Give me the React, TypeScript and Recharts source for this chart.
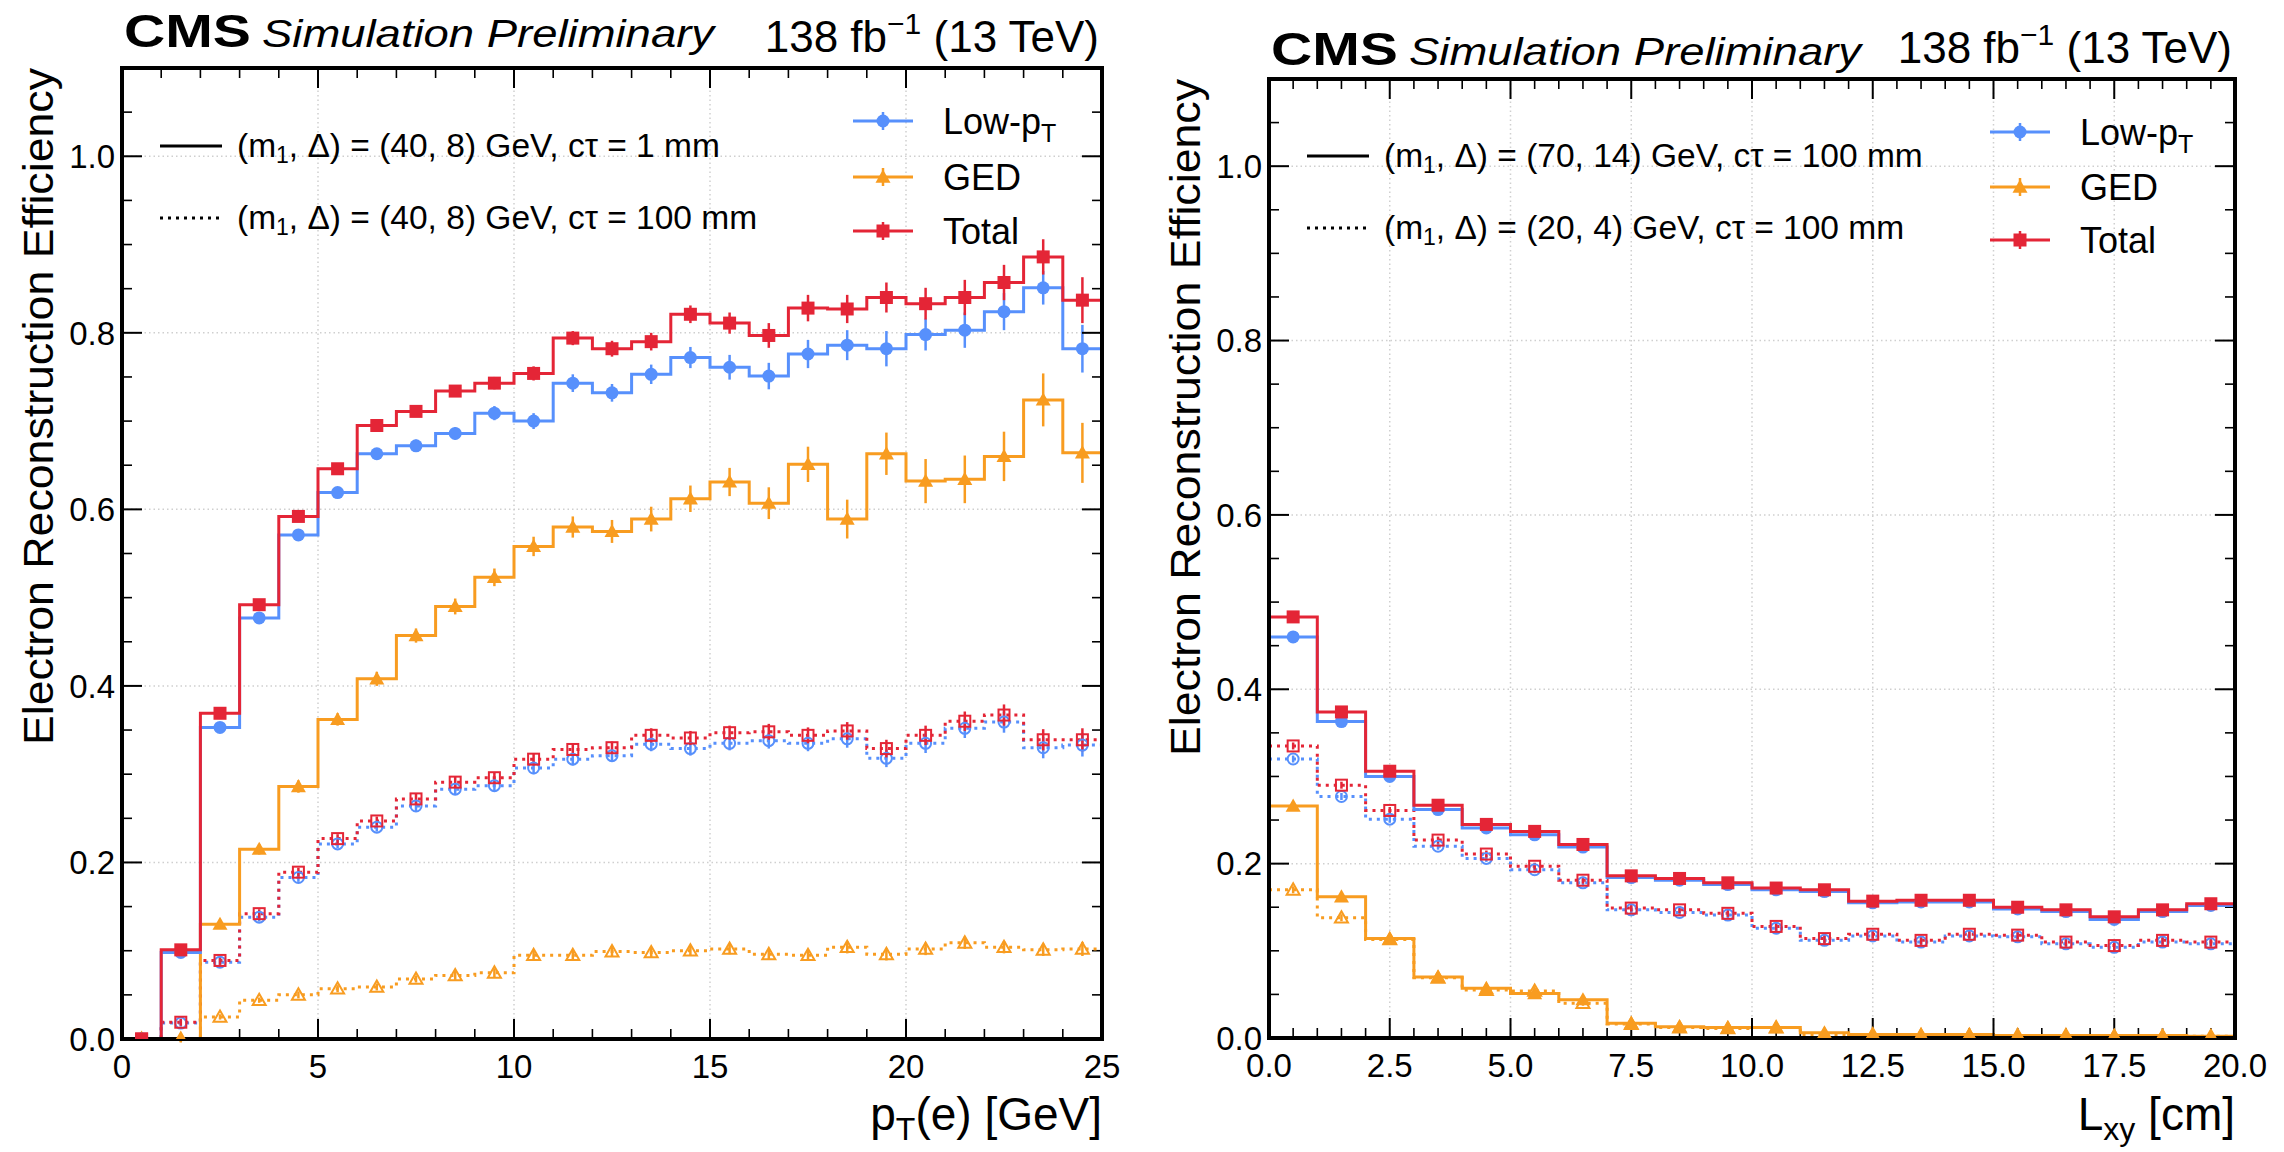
import React from "react";
import {
  ComposedChart,
  Line,
  Scatter,
  ErrorBar,
  XAxis,
  YAxis,
  CartesianGrid,
} from "recharts";

const BLUE = "#5790fc";
const ORANGE = "#f89c20";
const RED = "#e42536";
const FONT = "'Liberation Sans', Arial, Helvetica, sans-serif";

// ---- left panel: efficiency vs pT(e), bins of 1 GeV
const PT_EDGES = [0, 1, 2, 3, 4, 5, 6, 7, 8, 9, 10, 11, 12, 13, 14, 15, 16, 17, 18, 19, 20, 21, 22, 23, 24, 25];
const PT_MAJOR = [0, 5, 10, 15, 20, 25];

// (40, 8) GeV, ctau = 1 mm (solid)
const PT_LOWPT_1MM = [0.0, 0.098, 0.353, 0.477, 0.571, 0.619, 0.663, 0.672, 0.686, 0.709, 0.700, 0.743, 0.732, 0.753, 0.772, 0.761, 0.751, 0.776, 0.786, 0.782, 0.798, 0.803, 0.824, 0.851, 0.782];
const PT_LOWPT_1MM_ERR = [0, 0.005, 0.006, 0.006, 0.006, 0.006, 0.006, 0.007, 0.007, 0.008, 0.009, 0.010, 0.010, 0.011, 0.012, 0.014, 0.015, 0.016, 0.017, 0.020, 0.018, 0.020, 0.021, 0.019, 0.027];
const PT_GED_1MM = [0.0, 0.0, 0.130, 0.215, 0.286, 0.362, 0.408, 0.457, 0.490, 0.523, 0.558, 0.580, 0.575, 0.589, 0.612, 0.631, 0.607, 0.651, 0.589, 0.663, 0.632, 0.634, 0.660, 0.724, 0.664];
const PT_GED_1MM_ERR = [0, 0.004, 0.005, 0.006, 0.007, 0.007, 0.008, 0.008, 0.009, 0.010, 0.011, 0.012, 0.013, 0.014, 0.015, 0.016, 0.018, 0.020, 0.022, 0.024, 0.025, 0.027, 0.028, 0.030, 0.034];
const PT_TOTAL_1MM = [0.0, 0.101, 0.369, 0.492, 0.592, 0.646, 0.695, 0.711, 0.734, 0.743, 0.754, 0.794, 0.782, 0.790, 0.821, 0.811, 0.797, 0.828, 0.827, 0.840, 0.833, 0.840, 0.857, 0.886, 0.837];
const PT_TOTAL_1MM_ERR = [0, 0.005, 0.006, 0.006, 0.006, 0.006, 0.006, 0.006, 0.006, 0.007, 0.008, 0.008, 0.009, 0.010, 0.010, 0.012, 0.014, 0.015, 0.016, 0.017, 0.018, 0.020, 0.020, 0.020, 0.026];

// (40, 8) GeV, ctau = 100 mm (dotted)
const PT_LOWPT_100MM = [0.0, 0.018, 0.087, 0.138, 0.183, 0.221, 0.240, 0.264, 0.283, 0.287, 0.307, 0.317, 0.321, 0.334, 0.329, 0.335, 0.338, 0.335, 0.340, 0.318, 0.335, 0.352, 0.359, 0.330, 0.333];
const PT_LOWPT_100MM_ERR = [0, 0.004, 0.005, 0.005, 0.005, 0.005, 0.005, 0.006, 0.006, 0.006, 0.007, 0.007, 0.007, 0.008, 0.008, 0.008, 0.009, 0.009, 0.010, 0.010, 0.011, 0.011, 0.012, 0.012, 0.013];
const PT_GED_100MM = [0.0, 0.0, 0.025, 0.044, 0.050, 0.057, 0.059, 0.068, 0.072, 0.075, 0.095, 0.095, 0.099, 0.098, 0.100, 0.102, 0.096, 0.095, 0.104, 0.096, 0.102, 0.109, 0.104, 0.101, 0.102];
const PT_GED_100MM_ERR = [0, 0.003, 0.003, 0.003, 0.004, 0.004, 0.004, 0.004, 0.005, 0.005, 0.005, 0.005, 0.006, 0.006, 0.006, 0.006, 0.006, 0.006, 0.007, 0.007, 0.007, 0.007, 0.007, 0.007, 0.008];
const PT_TOTAL_100MM = [0.0, 0.019, 0.089, 0.142, 0.189, 0.227, 0.247, 0.272, 0.291, 0.296, 0.317, 0.328, 0.330, 0.344, 0.341, 0.347, 0.348, 0.344, 0.349, 0.329, 0.344, 0.360, 0.367, 0.339, 0.339];
const PT_TOTAL_100MM_ERR = [0, 0.004, 0.005, 0.005, 0.005, 0.005, 0.005, 0.006, 0.006, 0.006, 0.007, 0.007, 0.007, 0.008, 0.008, 0.008, 0.009, 0.009, 0.010, 0.010, 0.011, 0.011, 0.012, 0.012, 0.013];

// ---- right panel: efficiency vs Lxy, bins of 1 cm
const LXY_EDGES = [0, 1, 2, 3, 4, 5, 6, 7, 8, 9, 10, 11, 12, 13, 14, 15, 16, 17, 18, 19, 20];
const LXY_MAJOR = [0, 2.5, 5, 7.5, 10, 12.5, 15, 17.5, 20];

// (70, 14) GeV, ctau = 100 mm (solid)
const LXY_LOWPT_70 = [0.460, 0.363, 0.300, 0.262, 0.241, 0.233, 0.219, 0.184, 0.181, 0.176, 0.170, 0.168, 0.155, 0.156, 0.156, 0.148, 0.145, 0.136, 0.145, 0.152];
const LXY_LOWPT_70_ERR = [0.004, 0.004, 0.004, 0.004, 0.004, 0.004, 0.004, 0.004, 0.004, 0.005, 0.005, 0.005, 0.005, 0.005, 0.005, 0.005, 0.006, 0.006, 0.006, 0.006];
const LXY_GED_70 = [0.266, 0.162, 0.114, 0.070, 0.057, 0.051, 0.044, 0.017, 0.013, 0.012, 0.012, 0.006, 0.004, 0.004, 0.004, 0.003, 0.003, 0.003, 0.003, 0.002];
const LXY_GED_70_ERR = [0.004, 0.004, 0.003, 0.003, 0.003, 0.003, 0.003, 0.002, 0.002, 0.002, 0.006, 0.002, 0.002, 0.002, 0.002, 0.002, 0.002, 0.002, 0.002, 0.002];
const LXY_TOTAL_70 = [0.483, 0.374, 0.306, 0.267, 0.245, 0.237, 0.222, 0.186, 0.183, 0.178, 0.172, 0.170, 0.157, 0.158, 0.158, 0.150, 0.147, 0.139, 0.147, 0.154];
const LXY_TOTAL_70_ERR = [0.004, 0.004, 0.004, 0.004, 0.004, 0.004, 0.004, 0.004, 0.004, 0.005, 0.005, 0.005, 0.005, 0.005, 0.005, 0.005, 0.006, 0.006, 0.006, 0.006];

// (20, 4) GeV, ctau = 100 mm (dotted)
const LXY_LOWPT_20 = [0.320, 0.277, 0.251, 0.220, 0.206, 0.193, 0.178, 0.147, 0.144, 0.141, 0.126, 0.112, 0.117, 0.110, 0.117, 0.116, 0.108, 0.104, 0.110, 0.108];
const LXY_LOWPT_20_ERR = [0.004, 0.004, 0.004, 0.004, 0.004, 0.004, 0.004, 0.004, 0.004, 0.004, 0.005, 0.005, 0.005, 0.005, 0.005, 0.005, 0.005, 0.005, 0.005, 0.005];
const LXY_GED_20 = [0.170, 0.138, 0.113, 0.069, 0.055, 0.054, 0.040, 0.016, 0.012, 0.011, 0.012, 0.004, 0.004, 0.003, 0.003, 0.003, 0.003, 0.002, 0.002, 0.002];
const LXY_GED_20_ERR = [0.004, 0.004, 0.003, 0.003, 0.003, 0.003, 0.003, 0.002, 0.002, 0.002, 0.002, 0.002, 0.002, 0.002, 0.002, 0.002, 0.002, 0.002, 0.002, 0.002];
const LXY_TOTAL_20 = [0.335, 0.290, 0.261, 0.227, 0.211, 0.197, 0.181, 0.149, 0.147, 0.143, 0.128, 0.114, 0.119, 0.112, 0.119, 0.118, 0.110, 0.106, 0.112, 0.110];
const LXY_TOTAL_20_ERR = [0.004, 0.004, 0.004, 0.004, 0.004, 0.004, 0.004, 0.004, 0.004, 0.004, 0.005, 0.005, 0.005, 0.005, 0.005, 0.005, 0.005, 0.005, 0.005, 0.005];

const Y_MAJOR = [0, 0.2, 0.4, 0.6, 0.8, 1.0];

type MarkerKind = "circle" | "triangle" | "square";
type Hist = {
  key: string;
  values: number[];
  errors: number[];
  color: string;
  marker: MarkerKind;
  dotted: boolean;
};

function drawMarker(kind: MarkerKind, color: string, open: boolean, cx: number, cy: number) {
  const fill = open ? "none" : color;
  const sw = open ? 2 : 0;
  if (kind === "circle") {
    const r = open ? 5.5 : 6.5;
    return <circle cx={cx} cy={cy} r={r} fill={fill} stroke={color} strokeWidth={sw} />;
  }
  if (kind === "square") {
    const s = open ? 5.5 : 6.5;
    return <rect x={cx - s} y={cy - s} width={2 * s} height={2 * s} fill={fill} stroke={color} strokeWidth={sw} />;
  }
  const s = open ? 6.5 : 7.5;
  const pts = `${cx},${cy - s} ${cx + s},${cy + s * 0.75} ${cx - s},${cy + s * 0.75}`;
  return <polygon points={pts} fill={fill} stroke={color} strokeWidth={sw} strokeLinejoin="miter" />;
}

const markerShape = (kind: MarkerKind, color: string, open: boolean) => (props: any) => {
  const { cx, cy } = props;
  if (cx == null || cy == null) return <g />;
  return drawMarker(kind, color, open, cx, cy);
};

// tick marks only, no labels (tick={false} would drop the tick lines too)
const NoLabel = () => <g />;

type PanelProps = {
  panelX: number;
  panelW: number;
  plotLeft: number;
  plotRight: number;
  plotTop: number;
  plotBottom: number;
  edges: number[];
  hists: Hist[];
  xMajor: number[];
  xMinorStep: number;
  xFmt: (v: number) => string;
};

// one axis per side; negative tick sizes turn the ticks inwards
const BOTTOM_H = 40;
const LEFT_W = 60;
const TOP_H = 30;
const RIGHT_W = 30;
const PAGE_H = 1152;
const MAJOR_LEN = 20;
const MINOR_LEN = 10;

function Panel(p: PanelProps) {
  const n = p.edges.length - 1;
  const lo = p.edges[0];
  const hi = p.edges[n];
  const centers = p.edges.slice(0, n).map((e, i) => (e + p.edges[i + 1]) / 2);

  // step rows at bin edges; the last edge repeats the last bin so stepAfter closes it
  const rows = p.edges.map((x, i) => {
    const row: Record<string, number> = { x };
    p.hists.forEach((h) => {
      row[h.key] = h.values[Math.min(i, n - 1)];
    });
    return row;
  });

  const xMinor: number[] = [];
  for (let k = 1; lo + k * p.xMinorStep < hi - 1e-9; k++) {
    const v = lo + k * p.xMinorStep;
    if (!p.xMajor.some((m) => Math.abs(m - v) < 1e-9)) xMinor.push(v);
  }
  const yMinor = Array.from({ length: 22 }, (_, i) => i * 0.05).filter(
    (v) => Math.round(v * 100) % 20 !== 0
  );

  const margin = {
    top: p.plotTop - TOP_H,
    right: p.panelX + p.panelW - p.plotRight - RIGHT_W,
    bottom: PAGE_H - p.plotBottom - BOTTOM_H,
    left: p.plotLeft - p.panelX - LEFT_W,
  };

  const frame = { stroke: "#000", strokeWidth: 4, strokeLinecap: "square" as const };
  const tickMaj = { stroke: "#000", strokeWidth: 2 };
  const tickMin = { stroke: "#000", strokeWidth: 1.6 };
  const labelStyle = { fontSize: 33, fill: "#000", fontFamily: FONT };
  const xDomain: [number, number] = [lo, hi];
  const yDomain: [number, number] = [0, 1.1];
  const box = { position: "absolute" as const, left: 0, top: 0 };

  return (
    <div style={{ position: "absolute", left: p.panelX, top: 0, width: p.panelW, height: PAGE_H }}>
      {/* minor ticks on all four sides */}
      <div style={box}>
        <ComposedChart width={p.panelW} height={PAGE_H} data={rows} margin={margin}>
          <XAxis xAxisId="b" dataKey="x" type="number" domain={xDomain} ticks={xMinor} interval={0} allowDataOverflow orientation="bottom" height={BOTTOM_H} tick={NoLabel} tickSize={-MINOR_LEN} tickLine={tickMin} axisLine={false} />
          <XAxis xAxisId="t" dataKey="x" type="number" domain={xDomain} ticks={xMinor} interval={0} allowDataOverflow orientation="top" height={TOP_H} tick={NoLabel} tickSize={-MINOR_LEN} tickLine={tickMin} axisLine={false} />
          <YAxis yAxisId="l" type="number" domain={yDomain} ticks={yMinor} interval={0} allowDataOverflow orientation="left" width={LEFT_W} tick={NoLabel} tickSize={-MINOR_LEN} tickLine={tickMin} axisLine={false} />
          <YAxis yAxisId="r" type="number" domain={yDomain} ticks={yMinor} interval={0} allowDataOverflow orientation="right" width={RIGHT_W} tick={NoLabel} tickSize={-MINOR_LEN} tickLine={tickMin} axisLine={false} />
        </ComposedChart>
      </div>
      <div style={box}>
        <ComposedChart width={p.panelW} height={PAGE_H} data={rows} margin={margin}>
          <CartesianGrid
            xAxisId="x"
            yAxisId="y"
            stroke="#cfcfcf"
            strokeWidth={1.5}
            strokeDasharray="1.5 3"
          />
          <XAxis
            xAxisId="x"
            dataKey="x"
            type="number"
            domain={xDomain}
            ticks={p.xMajor}
            interval={0}
            allowDataOverflow
            orientation="bottom"
            height={BOTTOM_H}
            tickSize={-MAJOR_LEN}
            tickMargin={MAJOR_LEN + 16}
            tickLine={tickMaj}
            axisLine={frame}
            tick={labelStyle}
            tickFormatter={p.xFmt}
          />
          <XAxis xAxisId="xt" type="number" domain={xDomain} ticks={p.xMajor} interval={0} allowDataOverflow orientation="top" height={TOP_H} tick={NoLabel} tickSize={-MAJOR_LEN} tickLine={tickMaj} axisLine={frame} />
          <YAxis
            yAxisId="y"
            type="number"
            domain={yDomain}
            ticks={Y_MAJOR}
            interval={0}
            allowDataOverflow
            orientation="left"
            width={LEFT_W}
            tickSize={-MAJOR_LEN}
            tickMargin={MAJOR_LEN + 7}
            tickLine={tickMaj}
            axisLine={frame}
            tick={labelStyle}
            tickFormatter={(v: number) => v.toFixed(1)}
          />
          <YAxis yAxisId="yr" type="number" domain={yDomain} ticks={Y_MAJOR} interval={0} allowDataOverflow orientation="right" width={RIGHT_W} tick={NoLabel} tickSize={-MAJOR_LEN} tickLine={tickMaj} axisLine={frame} />

          {p.hists.map((h) => (
            <Line
              key={`line-${h.key}`}
              xAxisId="x"
              yAxisId="y"
              dataKey={h.key}
              type="stepAfter"
              stroke={h.color}
              strokeWidth={3}
              strokeDasharray={h.dotted ? "3 5" : undefined}
              dot={false}
              activeDot={false}
              isAnimationActive={false}
            />
          ))}
          {p.hists.map((h) => (
            <Scatter
              key={`pts-${h.key}`}
              xAxisId="x"
              yAxisId="y"
              dataKey="y"
              data={centers.map((c, i) => ({ x: c, y: h.values[i], err: h.errors[i] }))}
              shape={markerShape(h.marker, h.color, h.dotted)}
              isAnimationActive={false}
            >
              <ErrorBar dataKey="err" direction="y" width={0} stroke={h.color} strokeWidth={2.5} />
            </Scatter>
          ))}
        </ComposedChart>
      </div>
    </div>
  );
}

const LEFT_HISTS: Hist[] = [
  { key: "ged100", values: PT_GED_100MM, errors: PT_GED_100MM_ERR, color: ORANGE, marker: "triangle", dotted: true },
  { key: "low100", values: PT_LOWPT_100MM, errors: PT_LOWPT_100MM_ERR, color: BLUE, marker: "circle", dotted: true },
  { key: "tot100", values: PT_TOTAL_100MM, errors: PT_TOTAL_100MM_ERR, color: RED, marker: "square", dotted: true },
  { key: "ged1", values: PT_GED_1MM, errors: PT_GED_1MM_ERR, color: ORANGE, marker: "triangle", dotted: false },
  { key: "low1", values: PT_LOWPT_1MM, errors: PT_LOWPT_1MM_ERR, color: BLUE, marker: "circle", dotted: false },
  { key: "tot1", values: PT_TOTAL_1MM, errors: PT_TOTAL_1MM_ERR, color: RED, marker: "square", dotted: false },
];

const RIGHT_HISTS: Hist[] = [
  { key: "ged20", values: LXY_GED_20, errors: LXY_GED_20_ERR, color: ORANGE, marker: "triangle", dotted: true },
  { key: "low20", values: LXY_LOWPT_20, errors: LXY_LOWPT_20_ERR, color: BLUE, marker: "circle", dotted: true },
  { key: "tot20", values: LXY_TOTAL_20, errors: LXY_TOTAL_20_ERR, color: RED, marker: "square", dotted: true },
  { key: "ged70", values: LXY_GED_70, errors: LXY_GED_70_ERR, color: ORANGE, marker: "triangle", dotted: false },
  { key: "low70", values: LXY_LOWPT_70, errors: LXY_LOWPT_70_ERR, color: BLUE, marker: "circle", dotted: false },
  { key: "tot70", values: LXY_TOTAL_70, errors: LXY_TOTAL_70_ERR, color: RED, marker: "square", dotted: false },
];

const SERIES_LEGEND: { name: string; sub?: string; color: string; marker: MarkerKind }[] = [
  { name: "Low-p", sub: "T", color: BLUE, marker: "circle" },
  { name: "GED", color: ORANGE, marker: "triangle" },
  { name: "Total", color: RED, marker: "square" },
];

function SampleLabel({ x, y, mass, delta, ctau }: { x: number; y: number; mass: string; delta: string; ctau: string }) {
  return (
    <text x={x} y={y} fontFamily={FONT} fontSize={33.5} fill="#000">
      (m<tspan fontSize={23} dy={6}>1</tspan>
      <tspan dy={-6}>, Δ) = ({mass}, {delta}) GeV, cτ = {ctau} mm</tspan>
    </text>
  );
}

function Decorations({
  frameLeft,
  frameRight,
  frameTop,
  titleY,
  lumiY,
  samples,
  legX,
  legRows,
  xLabel,
  xLabelSub,
  xLabelRest,
}: {
  frameLeft: number;
  frameRight: number;
  frameTop: number;
  titleY: number;
  lumiY: number;
  samples: { y: number; dotted: boolean; mass: string; delta: string; ctau: string }[];
  legX: number;
  legRows: number[];
  xLabel: string;
  xLabelSub: string;
  xLabelRest: string;
}) {
  return (
    <g>
      <text x={frameLeft + 2} y={titleY} fontFamily={FONT} fontWeight="bold" fontSize={47} textLength={127} lengthAdjust="spacingAndGlyphs">
        CMS
      </text>
      <text x={frameLeft + 140} y={titleY} fontFamily={FONT} fontStyle="italic" fontSize={38} textLength={452} lengthAdjust="spacingAndGlyphs">
        Simulation Preliminary
      </text>
      <text x={frameRight - 3} y={lumiY} textAnchor="end" fontFamily={FONT} fontSize={44}>
        138 fb<tspan fontSize={30} dy={-18}>−1</tspan>
        <tspan dy={18}> (13 TeV)</tspan>
      </text>
      <text
        transform={`translate(${frameLeft - 69},${frameTop}) rotate(-90)`}
        textAnchor="end"
        fontFamily={FONT}
        fontSize={42}
        textLength={677}
        lengthAdjust="spacingAndGlyphs"
      >
        Electron Reconstruction Efficiency
      </text>
      <text x={frameRight} y={1130} textAnchor="end" fontFamily={FONT} fontSize={46}>
        {xLabel}
        <tspan fontSize={32} dy={10}>{xLabelSub}</tspan>
        <tspan dy={-10}>{xLabelRest}</tspan>
      </text>
      {samples.map((s, i) => (
        <g key={i}>
          <line
            x1={frameLeft + 38}
            x2={frameLeft + 100}
            y1={s.y}
            y2={s.y}
            stroke="#000"
            strokeWidth={3}
            strokeDasharray={s.dotted ? "3 5" : undefined}
          />
          <SampleLabel x={frameLeft + 115} y={s.y + 11} mass={s.mass} delta={s.delta} ctau={s.ctau} />
        </g>
      ))}
      {SERIES_LEGEND.map((e, i) => (
        <g key={e.name}>
          <line x1={legX} x2={legX + 60} y1={legRows[i]} y2={legRows[i]} stroke={e.color} strokeWidth={3} />
          <line x1={legX + 30} x2={legX + 30} y1={legRows[i] - 9} y2={legRows[i] + 9} stroke={e.color} strokeWidth={2.5} />
          {drawMarker(e.marker, e.color, false, legX + 30, legRows[i])}
          <text x={legX + 90} y={legRows[i] + 12.5} fontFamily={FONT} fontSize={36}>
            {e.name}
            {e.sub ? <tspan fontSize={25} dy={8}>{e.sub}</tspan> : null}
          </text>
        </g>
      ))}
    </g>
  );
}

export default function App() {
  return (
    <div style={{ position: "absolute", left: 0, top: 0, width: 2284, height: PAGE_H, background: "#fff", overflow: "hidden" }}>
      <Panel
        panelX={0}
        panelW={1142}
        plotLeft={122}
        plotRight={1102}
        plotTop={68}
        plotBottom={1039}
        edges={PT_EDGES}
        hists={LEFT_HISTS}
        xMajor={PT_MAJOR}
        xMinorStep={1}
        xFmt={(v) => String(v)}
      />
      <Panel
        panelX={1142}
        panelW={1142}
        plotLeft={1269}
        plotRight={2235}
        plotTop={79}
        plotBottom={1038}
        edges={LXY_EDGES}
        hists={RIGHT_HISTS}
        xMajor={LXY_MAJOR}
        xMinorStep={0.5}
        xFmt={(v) => v.toFixed(1)}
      />
      <svg width={2284} height={PAGE_H} style={{ position: "absolute", left: 0, top: 0, pointerEvents: "none" }}>
        <Decorations
          frameLeft={122}
          frameRight={1102}
          frameTop={68}
          titleY={47}
          lumiY={52}
          samples={[
            { y: 146, dotted: false, mass: "40", delta: "8", ctau: "1" },
            { y: 218, dotted: true, mass: "40", delta: "8", ctau: "100" },
          ]}
          legX={853}
          legRows={[121, 177, 231]}
          xLabel="p"
          xLabelSub="T"
          xLabelRest="(e) [GeV]"
        />
        <Decorations
          frameLeft={1269}
          frameRight={2235}
          frameTop={79}
          titleY={65}
          lumiY={63}
          samples={[
            { y: 156, dotted: false, mass: "70", delta: "14", ctau: "100" },
            { y: 228, dotted: true, mass: "20", delta: "4", ctau: "100" },
          ]}
          legX={1990}
          legRows={[132, 187, 240]}
          xLabel="L"
          xLabelSub="xy"
          xLabelRest=" [cm]"
        />
      </svg>
    </div>
  );
}
